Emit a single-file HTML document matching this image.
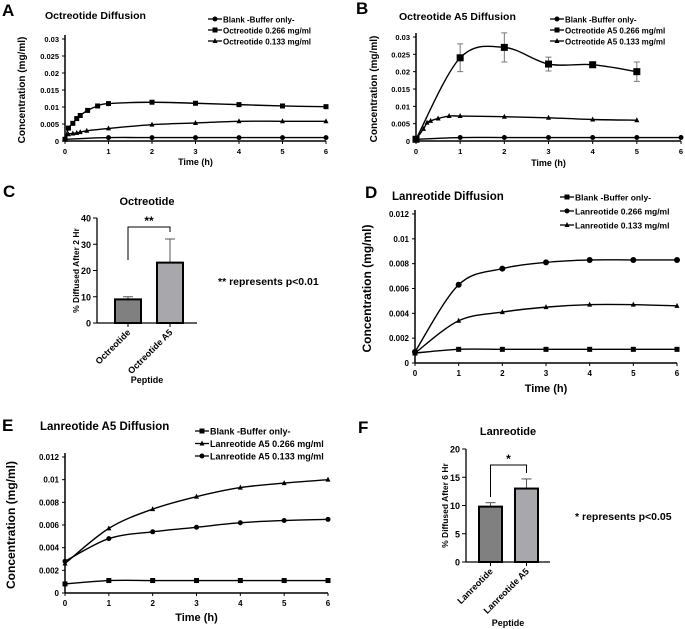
<!DOCTYPE html>
<html><head><meta charset="utf-8"><style>
body{margin:0;background:#fff}
svg{display:block;font-family:"Liberation Sans",Arial,sans-serif}
text{font-weight:bold;fill:#000}
</style></head><body>
<svg id="s" width="685" height="629" viewBox="0 0 685 629"></svg>
<script>
// ---------- data ----------
const aTimeSq=[0,0.08,0.18,0.27,0.35,0.52,0.75,1,2,3,4,5,6];
const aOct266=[0.0005,0.0038,0.0052,0.0066,0.0075,0.009,0.0103,0.011,0.0114,0.0111,0.0107,0.0103,0.0101];
const aTimeTri=[0,0.08,0.18,0.27,0.35,0.5,1,2,3,4,5,6];
const aOct133=[0.0005,0.002,0.0022,0.0024,0.0026,0.003,0.0037,0.0048,0.0053,0.0058,0.0058,0.0058];
const aTimeBlank=[0,1,2,3,4,5,6];
const aBlank=[0.0005,0.001,0.001,0.001,0.001,0.001,0.001];
const bTime266=[0,1,2,3,4,5];
const bA5266=[0.0005,0.024,0.027,0.0222,0.022,0.02];
const bA5266Err=[0,0.004,0.0042,0.002,0.0004,0.0028];
const bTime133=[0,0.17,0.25,0.33,0.5,0.75,1,2,3,4,5];
const bA5133=[0.0005,0.0035,0.0053,0.0058,0.0065,0.0072,0.0072,0.007,0.0067,0.0062,0.006];
const bBlank=[0.0005,0.001,0.001,0.001,0.001,0.001,0.001];
const dTime=[0,1,2,3,4,5,6];
const dBlank=[0.0008,0.0011,0.0011,0.0011,0.0011,0.0011,0.0011];
const dLan266=[0.0009,0.0063,0.0076,0.0081,0.0083,0.0083,0.0083];
const dLan133=[0.0008,0.0034,0.0041,0.0045,0.0047,0.0047,0.0046];
const eBlank=[0.0008,0.0011,0.0011,0.0011,0.0011,0.0011,0.0011];
const eLanA5266=[0.0026,0.0057,0.0074,0.0085,0.0093,0.0097,0.01];
const eLanA5133=[0.0028,0.0048,0.0054,0.0058,0.0062,0.0064,0.0065];
const cCats=["Octreotide","Octreotide A5"];
const cVals=[9,23];
const cErr=[10,32];
const fCats=["Lanreotide","Lanreotide A5"];
const fVals=[9.8,13];
const fErr=[10.5,14.7];
const xTicks=[0,1,2,3,4,5,6];
const abTicks=["0","0.005","0.01","0.015","0.02","0.025","0.03"];
const deTicks=["0","0.002","0.004","0.006","0.008","0.01","0.012"];
const cTicks=[0,10,20,30,40];
const fTicks=[0,5,10,15,20];
// ---------- helpers ----------
const S=document.getElementById('s');const NS='http://www.w3.org/2000/svg';
function el(t,a,p){const e=document.createElementNS(NS,t);for(const k in a)e.setAttribute(k,a[k]);(p||S).appendChild(e);return e;}
function txt(x,y,s,size,anchor,p,rot){const e=el('text',{x:x,y:y,'font-size':size,'text-anchor':anchor||'start'},p);if(rot)e.setAttribute('transform','rotate('+rot+' '+x+' '+y+')');e.textContent=s;return e;}
function smooth(pts){if(pts.length<2)return '';let d='M'+pts[0][0]+','+pts[0][1];for(let i=0;i<pts.length-1;i++){const p0=pts[i-1]||pts[i],p1=pts[i],p2=pts[i+1],p3=pts[i+2]||p2;const t=0.5/3;d+=' C'+(p1[0]+(p2[0]-p0[0])*t)+','+(p1[1]+(p2[1]-p0[1])*t)+' '+(p2[0]-(p3[0]-p1[0])*t)+','+(p2[1]-(p3[1]-p1[1])*t)+' '+p2[0]+','+p2[1];}return d;}
function marker(g,type,x,y,r){if(type==='sq')return el('rect',{x:x-r,y:y-r,width:2*r,height:2*r,fill:'#000'},g);if(type==='tri')return el('polygon',{points:(x)+','+(y-r-0.5)+' '+(x-r)+','+(y+r-0.5)+' '+(x+r)+','+(y+r-0.5),fill:'#000'},g);return el('circle',{cx:x,cy:y,r:r,fill:'#000'},g);}
function lineChart(o){
  const g=el('g',{});
  const X=v=>o.x0+(o.x1-o.x0)*v/6, Y=v=>o.y0-(o.y0-o.y1)*v/o.ymax;
  el('line',{x1:o.x0,y1:o.y0,x2:o.x0,y2:o.y1-4,stroke:'#000','stroke-width':1.5},g);
  el('line',{x1:o.x0,y1:o.y0,x2:o.x1,y2:o.y0,stroke:'#000','stroke-width':1.5},g);
  o.yt.forEach((s,i)=>{const v=o.ymax*i/(o.yt.length-1);el('line',{x1:o.x0-3,y1:Y(v),x2:o.x0,y2:Y(v),stroke:'#000'},g);txt(o.x0-6,Y(v)+3,s,o.fs,'end',g);});
  xTicks.forEach(t=>{el('line',{x1:X(t),y1:o.y0,x2:X(t),y2:o.y0+3,stroke:'#000'},g);txt(X(t),o.y0+13,String(t),o.fs,'middle',g);});
  o.series.forEach(sr=>{const sg=el('g',{},g);
    const pts=sr.t.map((t,i)=>[X(t),Y(sr.v[i])]);
    el('path',{d:smooth(pts),fill:'none',stroke:'#000','stroke-width':1.4},sg);
    if(sr.e)sr.t.forEach((t,i)=>{if(sr.e[i]>0){const x=X(t);el('path',{d:'M'+x+','+Y(sr.v[i]-sr.e[i])+'V'+Y(sr.v[i]+sr.e[i])+'M'+(x-3)+','+Y(sr.v[i]+sr.e[i])+'h6M'+(x-3)+','+Y(sr.v[i]-sr.e[i])+'h6',stroke:'#777','stroke-width':1,fill:'none'},sg);}});
    pts.forEach(p=>marker(sg,sr.m,p[0],p[1],sr.r||2.5));});
  txt(o.tx,o.ty,o.title,o.tfs,'start',g);
  o.series.forEach((sr,i)=>{const ly=o.ly+i*o.ld;const lg=el('g',{},g);
    el('line',{x1:o.lx,y1:ly,x2:o.lx+14,y2:ly,stroke:'#000','stroke-width':1.3},lg);marker(lg,sr.m,o.lx+7,ly,2.5);txt(o.lx+15,ly+3.5,sr.label,o.lfs,'start',lg);});
  txt(o.ytx,(o.y0+o.y1)/2,'Concentration (mg/ml)',o.yfs,'middle',g,-90);
  txt((o.x0+o.x1)/2,o.xty,'Time (h)',o.xfs,'middle',g);
  txt(o.px,o.py,o.panel,17,'start',g);
}
function barChart(o){
  const g=el('g',{});
  const Y=v=>o.y0-(o.y0-o.y1)*v/o.ymax;
  el('line',{x1:o.x0,y1:o.y0,x2:o.x0,y2:o.y1,stroke:'#000','stroke-width':1.3},g);
  el('line',{x1:o.x0,y1:o.y0,x2:o.xe,y2:o.y0,stroke:'#000','stroke-width':1.3},g);
  o.ticks.forEach(v=>{el('line',{x1:o.x0-4,y1:Y(v),x2:o.x0,y2:Y(v),stroke:'#000'},g);txt(o.x0-6,Y(v)+3.5,String(v),9,'end',g);});
  const cols=['#808080','#a8a8ac'];const cx=[];
  o.vals.forEach((v,i)=>{const x=o.bx[i],w=o.bw;cx.push(x+w/2);
    el('line',{x1:x+w/2,y1:Y(v),x2:x+w/2,y2:Y(o.err[i]),stroke:'#555','stroke-width':1},g);
    el('line',{x1:x+w/2-5,y1:Y(o.err[i]),x2:x+w/2+5,y2:Y(o.err[i]),stroke:'#555','stroke-width':1},g);
    const r=el('rect',{x:x,y:Y(v),width:w,height:o.y0-Y(v),fill:cols[i],stroke:'#000','stroke-width':2},g);
    
    el('line',{x1:x+w/2,y1:o.y0,x2:x+w/2,y2:o.y0+4,stroke:'#000'},g);
    txt(x+w/2+3,o.y0+10,o.cats[i],9,'end',g,-45);});
  el('path',{d:'M'+cx[0]+','+o.bl+'V'+o.bt+'H'+cx[1]+'V'+o.br,fill:'none',stroke:'#000','stroke-width':1},g);
  txt((cx[0]+cx[1])/2,o.bt-2,o.star,12,'middle',g);
  txt((o.x0+o.xe)/2,o.ty,o.title,11,'middle',g);
  txt(o.x0-18,(o.y0+o.y1)/2,o.ylab,8.5,'middle',g,-90);
  txt((o.x0+o.xe)/2,o.py2,'Peptide',9,'middle',g);
  txt(o.nx,o.ny,o.note,10.5,'start',g);
  txt(o.px,o.py,o.panel,17,'start',g);
}
lineChart({name:'panel-a-chart',x0:65,x1:326,y0:141,y1:39,ymax:0.03,yt:abTicks,fs:7.5,
 series:[{id:'series-blank',t:aTimeBlank,v:aBlank,m:'c',label:'Blank -Buffer only-'},
         {id:'series-oct-266',t:aTimeSq,v:aOct266,m:'sq',label:'Octreotide 0.266 mg/ml'},
         {id:'series-oct-133',t:aTimeTri,v:aOct133,m:'tri',label:'Octreotide 0.133 mg/ml'}],
 tx:45,ty:19,title:'Octreotide Diffusion',tfs:10.5,lx:208,ly:19,ld:11,lfs:8,ytx:25,yfs:10,xty:165,xfs:9,panel:'A',px:2,py:16});
lineChart({name:'panel-b-chart',x0:416,x1:681,y0:141,y1:37,ymax:0.03,yt:abTicks,fs:7.5,
 series:[{id:'series-blank',t:aTimeBlank,v:bBlank,m:'c',label:'Blank -Buffer only-'},
         {id:'series-oct-a5-266',t:bTime266,v:bA5266,e:bA5266Err,m:'sq',r:3.5,label:'Octreotide A5 0.266 mg/ml'},
         {id:'series-oct-a5-133',t:bTime133,v:bA5133,m:'tri',label:'Octreotide A5 0.133 mg/ml'}],
 tx:399,ty:20,title:'Octreotide A5 Diffusion',tfs:10.5,lx:550,ly:19,ld:11,lfs:8,ytx:377,yfs:10,xty:166,xfs:9,panel:'B',px:356,py:14});
lineChart({name:'panel-d-chart',x0:415,x1:677,y0:363,y1:214,ymax:0.012,yt:deTicks,fs:8,
 series:[{id:'series-blank',t:dTime,v:dBlank,m:'sq',label:'Blank -Buffer only-'},
         {id:'series-lan-266',t:dTime,v:dLan266,m:'c',r:3,label:'Lanreotide 0.266 mg/ml'},
         {id:'series-lan-133',t:dTime,v:dLan133,m:'tri',label:'Lanreotide 0.133 mg/ml'}],
 tx:392,ty:200,title:'Lanreotide Diffusion',tfs:11.5,lx:560,ly:197,ld:14,lfs:8.5,ytx:371,yfs:12,xty:392,xfs:11,panel:'D',px:365,py:198});
lineChart({name:'panel-e-chart',x0:65,x1:328,y0:593,y1:457,ymax:0.012,yt:deTicks,fs:8,
 series:[{id:'series-blank',t:dTime,v:eBlank,m:'sq',label:'Blank -Buffer only-'},
         {id:'series-lan-a5-266',t:dTime,v:eLanA5266,m:'tri',label:'Lanreotide A5 0.266 mg/ml'},
         {id:'series-lan-a5-133',t:dTime,v:eLanA5133,m:'c',label:'Lanreotide A5 0.133 mg/ml'}],
 tx:40,ty:430,title:'Lanreotide A5 Diffusion',tfs:11.5,lx:195,ly:431,ld:12.5,lfs:9,ytx:15,yfs:12,xty:621,xfs:11,panel:'E',px:2,py:431});
barChart({name:'panel-c-chart',x0:97,xe:197,y0:323,y1:218,ymax:40,ticks:cTicks,cats:cCats,vals:cVals,err:cErr,bx:[115,157],bw:26,
 bt:227,bl:260,br:232,star:'**',title:'Octreotide',ty:205,ylab:'% Diffused After 2 Hr',py2:383,note:'** represents p<0.01',nx:218,ny:285,panel:'C',px:3,py:197});
barChart({name:'panel-f-chart',x0:466,xe:550,y0:562,y1:449,ymax:20,ticks:fTicks,cats:fCats,vals:fVals,err:fErr,bx:[479,515],bw:23,
 bt:465,bl:497,br:473,star:'*',title:'Lanreotide',ty:435,ylab:'% Diffused After 6 Hr',py2:626,note:'* represents p<0.05',nx:575,ny:520,panel:'F',px:358,py:433});
</script>
</body></html>
